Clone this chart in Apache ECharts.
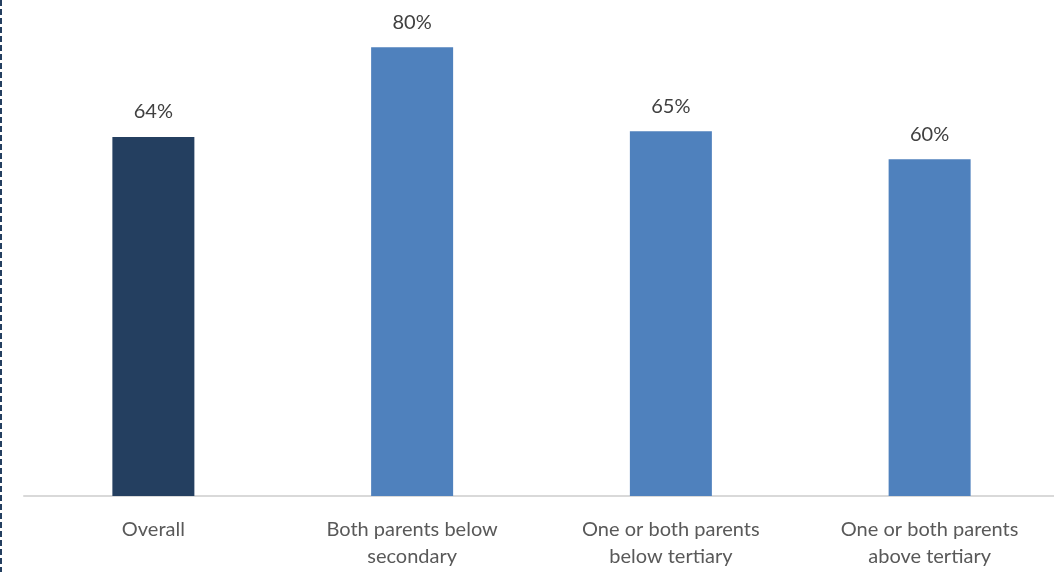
<!DOCTYPE html>
<html>
<head>
<meta charset="utf-8">
<style>
  html, body { margin: 0; padding: 0; background: #ffffff; overflow: hidden; }
  /* canvas slightly wider than the page so the plot runs off the right edge */
  #chart { width: 1060px; height: 572px; }
</style>
<script src="https://cdn.jsdelivr.net/npm/echarts@6/dist/echarts.min.js"></script>
</head>
<body>
<div id="chart"></div>
<script>
// Share of students, by parental education level
const categories = [
  'Overall',
  'Both parents below\nsecondary',
  'One or both parents\nbelow tertiary',
  'One or both parents\nabove tertiary'
];
const values = [64, 80, 65, 60];
const barColors = ['#243f60', '#4f81bd', '#4f81bd', '#4f81bd'];

const chart = echarts.init(document.getElementById('chart'), null, { renderer: 'canvas' });

chart.setOption({
  animation: false,
  backgroundColor: '#ffffff',
  textStyle: { fontFamily: 'Lato, "Open Sans", sans-serif' },
  grid: { left: 24, right: 1, top: 0, bottom: 76, containLabel: false },
  xAxis: {
    type: 'category',
    data: categories,
    axisLine: { show: true, lineStyle: { color: '#d9d9d9', width: 2 } },
    axisTick: { show: false },
    axisLabel: {
      color: '#595959',
      fontSize: 20,
      lineHeight: 27,
      margin: 20,
      interval: 0
    }
  },
  yAxis: {
    type: 'value',
    min: 0,
    max: 88.4,
    show: false,
    splitLine: { show: false }
  },
  series: [{
    type: 'bar',
    barWidth: 82,
    data: values.map((v, i) => ({ value: v, itemStyle: { color: barColors[i] } })),
    label: {
      show: true,
      position: 'top',
      distance: 15,
      color: '#404040',
      fontSize: 20,
      formatter: p => p.value + '%'
    }
  }],
  graphic: [{
    type: 'line',
    shape: { x1: 1, y1: 0, x2: 1, y2: 572 },
    style: { stroke: '#243f60', lineWidth: 2, lineDash: [6, 3] },
    silent: true
  }]
});
</script>
</body>
</html>
